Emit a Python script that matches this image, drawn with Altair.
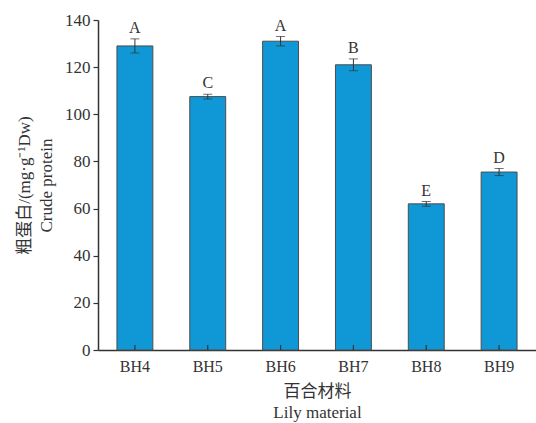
import altair as alt
import pandas as pd

# Crude protein content of six lily materials
materials = ["BH4", "BH5", "BH6", "BH7", "BH8", "BH9"]
protein = [129.0, 107.5, 131.0, 121.0, 62.0, 75.5]
errors = [3.0, 1.0, 2.0, 2.5, 1.0, 1.5]
letters = ["A", "C", "A", "B", "E", "D"]
y_ticks = [0, 20, 40, 60, 80, 100, 120, 140]

df = pd.DataFrame({
    "material": materials,
    "protein": protein,
    "err": errors,
    "letter": letters,
})
df["lo"] = df["protein"] - df["err"]
df["hi"] = df["protein"] + df["err"]
df["zero"] = 0.0
df["tick_top"] = 2.1

SERIF = "Liberation Serif, Noto Sans CJK SC"
INK = "#333333"

x_enc = alt.X(
    "material:N",
    sort=materials,
    scale=alt.Scale(paddingInner=0.507, paddingOuter=0.26),
    axis=alt.Axis(
        title=["百合材料", "Lily material"],
        titleFont=SERIF,
        titleFontSize=17,
        titleFontWeight="normal",
        titleColor=INK,
        titlePadding=9,
        titleLineHeight=21,
        labelFont=SERIF,
        labelFontSize=16,
        labelColor=INK,
        labelAngle=0,
        labelPadding=8,
        ticks=False,
        domainColor=INK,
        domainWidth=1.5,
    ),
)

y_scale = alt.Scale(domain=[0, 140], nice=False)
y_axis = alt.Axis(
    title=["粗蛋白/(mg·g⁻¹Dw)", "Crude protein"],
    titleFont=SERIF,
    titleFontSize=17,
    titleFontWeight="normal",
    titleColor=INK,
    titleLineHeight=22,
    titlePadding=9,
    values=y_ticks,
    labelFont=SERIF,
    labelFontSize=17,
    labelColor=INK,
    labelPadding=3,
    tickSize=5,
    tickColor=INK,
    tickWidth=1.2,
    domainColor=INK,
    domainWidth=1.5,
    grid=False,
)

base = alt.Chart(df)

bars = base.mark_bar(
    color="#0f98d5", stroke="#4d4d4d", strokeWidth=1
).encode(
    x=x_enc,
    y=alt.Y("protein:Q", scale=y_scale, axis=y_axis),
)

err_rule = base.mark_rule(color=INK, strokeWidth=1).encode(
    x=alt.X("material:N", sort=materials),
    y="lo:Q",
    y2="hi:Q",
)

cap_hi = base.mark_tick(color=INK, size=9, thickness=1, orient="horizontal").encode(
    x=alt.X("material:N", sort=materials),
    y="hi:Q",
)
cap_lo = base.mark_tick(color=INK, size=9, thickness=1, orient="horizontal").encode(
    x=alt.X("material:N", sort=materials),
    y="lo:Q",
)

# short inward ticks on the category axis
inner_ticks = base.mark_rule(color=INK, strokeWidth=1.2).encode(
    x=alt.X("material:N", sort=materials),
    y="zero:Q",
    y2="tick_top:Q",
)

labels = base.mark_text(
    font=SERIF, fontSize=16, color=INK, baseline="bottom", dy=-3
).encode(
    x=alt.X("material:N", sort=materials),
    y="hi:Q",
    text="letter:N",
)

chart = (
    alt.layer(bars, err_rule, cap_hi, cap_lo, inner_ticks, labels)
    .properties(
        width=438,
        height=330,
        autosize=alt.AutoSizeParams(type="none"),
        padding={"left": 98, "top": 20, "right": 0, "bottom": 73},
        background="white",
    )
    .configure_view(stroke=None)
)

chart.save("out.html", embed_options={"renderer": "svg", "actions": False})
